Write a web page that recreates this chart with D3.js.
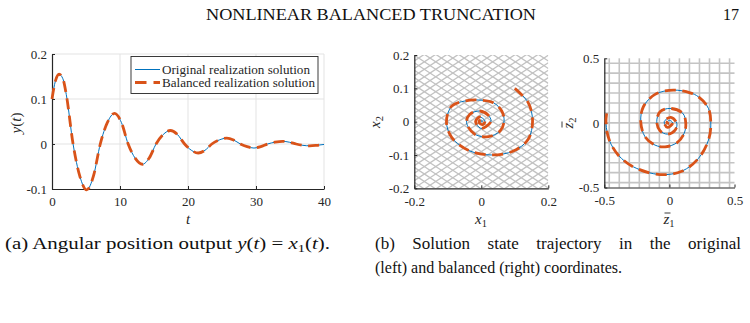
<!DOCTYPE html>
<html>
<head>
<meta charset="utf-8">
<script src="https://cdn.jsdelivr.net/npm/d3@7"></script>
<style>
  body { margin: 0; background: #fff; }
  svg { display: block; font-family: "Liberation Serif", "DejaVu Serif", serif; }
</style>
</head>
<body>
<svg width="750" height="323"></svg>
<script>
// y(t) = x1(t)
const tVals = [0, 0.5, 1.05, 1.6, 2.1, 3.1, 4.1, 5.1, 6.1, 7.1, 8.15, 9.2, 10.2, 11.2, 12.25, 13.3, 14.3, 15.3,
  16.35, 17.4, 18.45, 19.5, 20.5, 21.5, 22.5, 23.5, 24.6, 25.7, 26.7, 27.7, 28.7, 29.7, 30.7, 31.7,
  32.8, 33.9, 34.9, 35.9, 36.9, 37.9, 38.9, 40];
const yVals = [0.100, 0.140, 0.155, 0.145, 0.110, 0.000, -0.072, -0.102, -0.071, 0.000, 0.048, 0.068, 0.048, 0.000,
  -0.032, -0.045, -0.031, 0.000, 0.021, 0.030, 0.021, 0.000, -0.014, -0.020, -0.014, 0.000, 0.009, 0.013,
  0.009, 0.000, -0.006, -0.009, -0.006, 0.000, 0.004, 0.006, 0.004, 0.000, -0.003, -0.004, -0.003, -0.001];

// state trajectory in original coordinates
const x1Traj = [0.100, 0.140, 0.153, 0.140, 0.096, 0.031, -0.034, -0.088, -0.104, -0.088, -0.049, -0.009, 0.036,
  0.061, 0.068, 0.056, 0.021, -0.019, -0.044, -0.034, -0.004, 0.021, 0.029, 0.014, -0.002, -0.017, -0.005,
  0.011, 0.004, -0.007, -0.001, 0.003, 0.000];
const x2Traj = [0.100, 0.057, 0.002, -0.053, -0.088, -0.100, -0.088, -0.048, 0.000, 0.047, 0.062, 0.065, 0.057,
  0.032, 0.002, -0.028, -0.045, -0.038, -0.003, 0.022, 0.032, 0.019, 0.002, -0.015, -0.020, 0.000, 0.014,
  0.002, -0.009, -0.002, 0.006, 0.000, 0.000];

// state trajectory in balanced coordinates
const z1Traj = [-0.482, -0.487, -0.462, -0.392, -0.277, -0.072, 0.095, 0.223, 0.300, 0.318, 0.300, 0.223, 0.159,
  0.031, -0.110, -0.200, -0.220, -0.187, -0.110, -0.033, 0.057, 0.113, 0.126, 0.103, 0.005, -0.072, -0.097,
  -0.072, -0.015, 0.044, 0.057, 0.011, -0.040, -0.015, 0.025, 0.000, -0.020, -0.002];
const z2Traj = [0.074, -0.004, -0.133, -0.250, -0.340, -0.400, -0.374, -0.275, -0.133, -0.017, 0.112, 0.202, 0.233,
  0.254, 0.221, 0.125, 0.009, -0.108, -0.172, -0.185, -0.154, -0.081, -0.004, 0.074, 0.112, 0.086, 0.009,
  -0.061, -0.087, -0.056, -0.004, 0.043, 0.009, -0.035, 0.000, 0.020, 0.000, -0.005];

// ticks and grids
const tTicks = [0, 10, 20, 30, 40];
const yTicks = [-0.1, 0, 0.1, 0.2];
const xTicksB = [-0.2, 0, 0.2];
const yTicksB = [-0.2, -0.1, 0, 0.1, 0.2];
const zTicks = [-0.5, 0, 0.5];
const zGrid = [-0.462, -0.385, -0.308, -0.231, -0.154, -0.077, 0, 0.077, 0.154, 0.231, 0.308, 0.385, 0.462];
const hatchOffsets = d3.range(-16, 17); // index of each crosshatch line
const hatchSlope = 0.66, hatchStep = 0.034;

const blue = '#0072BD', orange = '#D95319', axisCol = '#262626';

const svg = d3.select('svg');
const fmt = (d) => (d === 0 ? '0' : String(d));

function styleAxis(g) {
    g.select('.domain').attr('stroke', axisCol).attr('stroke-width', 1.2);
    g.selectAll('.tick line').attr('stroke', axisCol);
    g.selectAll('.tick text').attr('fill', axisCol).attr('font-size', 13)
        .attr('font-family', '"Liberation Serif", serif');
}

function addAxes(x, y, xt, yt) {
    const [x0] = x.range();
    const [y0] = y.range();
    svg.append('g').attr('transform', `translate(0,${y0})`)
        .call(d3.axisBottom(x).tickValues(xt).tickFormat(fmt).tickSizeInner(-3).tickSizeOuter(0).tickPadding(8))
        .call(styleAxis);
    svg.append('g').attr('transform', `translate(${x0},0)`)
        .call(d3.axisLeft(y).tickValues(yt).tickFormat(fmt).tickSizeInner(-3).tickSizeOuter(0).tickPadding(5))
        .call(styleAxis);
}

function drawPair(line, data) {
    svg.append('path').datum(data).attr('d', line)
        .attr('fill', 'none').attr('stroke', blue).attr('stroke-width', 1);
    svg.append('path').datum(data).attr('d', line)
        .attr('fill', 'none').attr('stroke', orange).attr('stroke-width', 2.8)
        .attr('stroke-dasharray', '11,6.5');
}

// ---------- (a) time response ----------
const xA = d3.scaleLinear().domain([0, 40]).range([52, 324]);
const yA = d3.scaleLinear().domain([-0.1, 0.2]).range([189, 54]);

const gridA = svg.append('g').attr('stroke', '#e3e3e3').attr('stroke-width', 1);
tTicks.slice(1).forEach((t) => {
    gridA.append('line').attr('x1', xA(t)).attr('x2', xA(t)).attr('y1', yA(-0.1)).attr('y2', yA(0.2));
});
yTicks.slice(1).forEach((v) => {
    gridA.append('line').attr('x1', xA(0)).attr('x2', xA(40)).attr('y1', yA(v)).attr('y2', yA(v));
});
addAxes(xA, yA, tTicks, yTicks);

const series = tVals.map((t, i) => [t, yVals[i]]);
const lineA = d3.line().x((d) => xA(d[0])).y((d) => yA(d[1])).curve(d3.curveMonotoneX);
drawPair(lineA, series); // balanced solution lies on top of the original one

// legend
const lg = svg.append('g');
lg.append('rect').attr('x', 131).attr('y', 56.5).attr('width', 187).attr('height', 37)
    .attr('fill', '#fff').attr('stroke', axisCol).attr('stroke-width', 0.9);
lg.append('line').attr('x1', 135).attr('x2', 160).attr('y1', 69.5).attr('y2', 69.5)
    .attr('stroke', blue).attr('stroke-width', 1);
lg.append('line').attr('x1', 135).attr('x2', 160).attr('y1', 82.5).attr('y2', 82.5)
    .attr('stroke', orange).attr('stroke-width', 2.8).attr('stroke-dasharray', '11.5,7');
lg.append('text').attr('x', 162).attr('y', 73.5).attr('font-size', 12.5).attr('fill', axisCol)
    .attr('textLength', 148).attr('lengthAdjust', 'spacingAndGlyphs').text('Original realization solution');
lg.append('text').attr('x', 162).attr('y', 87).attr('font-size', 12.5).attr('fill', axisCol)
    .attr('textLength', 153).attr('lengthAdjust', 'spacingAndGlyphs').text('Balanced realization solution');

svg.append('text').attr('x', 188).attr('y', 224).attr('text-anchor', 'middle')
    .attr('font-size', 15).attr('font-style', 'italic').attr('fill', axisCol).text('t');
const yLab = svg.append('text').attr('transform', 'translate(21,123) rotate(-90)')
    .attr('text-anchor', 'middle').attr('font-size', 15).attr('fill', axisCol);
yLab.append('tspan').attr('font-style', 'italic').text('y');
yLab.append('tspan').text('(');
yLab.append('tspan').attr('font-style', 'italic').text('t');
yLab.append('tspan').text(')');

// ---------- (b) left: original coordinates ----------
const xB = d3.scaleLinear().domain([-0.2, 0.2]).range([414.3, 548.3]);
const yB = d3.scaleLinear().domain([-0.2, 0.2]).range([188.3, 55]);

svg.append('clipPath').attr('id', 'clipB').append('rect')
    .attr('x', 414.3).attr('y', 55).attr('width', 134).attr('height', 133.3);
const hatch = svg.append('g').attr('clip-path', 'url(#clipB)')
    .attr('stroke', '#c2c2c2').attr('stroke-width', 1.3);
hatchOffsets.forEach((k) => {
    const c = k * hatchSlope * hatchStep;
    [hatchSlope, -hatchSlope].forEach((s) => {
        hatch.append('line')
            .attr('x1', xB(-0.2)).attr('y1', yB(s * -0.2 + c))
            .attr('x2', xB(0.2)).attr('y2', yB(s * 0.2 + c));
    });
});
addAxes(xB, yB, xTicksB, yTicksB);

const lineB = d3.line().x((d) => xB(d[0])).y((d) => yB(d[1])).curve(d3.curveCatmullRom.alpha(0.5));
drawPair(lineB, x1Traj.map((v, i) => [v, x2Traj[i]]));

function subLabel(x, y, letter, sub, rotate, bar) {
    const g = svg.append('g').attr('transform', `translate(${x},${y})` + (rotate ? ' rotate(-90)' : ''));
    const t = g.append('text').attr('text-anchor', 'middle').attr('font-size', 15).attr('fill', axisCol);
    t.append('tspan').attr('font-style', 'italic').text(letter);
    t.append('tspan').attr('font-size', 10.5).attr('dy', 3).text(sub);
    if (bar) {
        g.append('line').attr('x1', -4.5).attr('x2', 1.5).attr('y1', -11).attr('y2', -11)
            .attr('stroke', axisCol).attr('stroke-width', 0.9);
    }
}
subLabel(481, 224, 'x', '1', false, false);
subLabel(380, 122, 'x', '2', true, false);

// ---------- (b) right: balanced coordinates ----------
const xC = d3.scaleLinear().domain([-0.5, 0.5]).range([604.3, 734.5]);
const yC = d3.scaleLinear().domain([-0.5, 0.5]).range([187.5, 58.3]);

const gridC = svg.append('g').attr('stroke', '#c4c4c4').attr('stroke-width', 1.6);
zGrid.forEach((v) => {
    gridC.append('line').attr('x1', xC(v)).attr('x2', xC(v)).attr('y1', yC(-0.5)).attr('y2', yC(0.5));
    gridC.append('line').attr('x1', xC(-0.5)).attr('x2', xC(0.5)).attr('y1', yC(v)).attr('y2', yC(v));
});
addAxes(xC, yC, zTicks, zTicks);

const lineC = d3.line().x((d) => xC(d[0])).y((d) => yC(d[1])).curve(d3.curveCatmullRom.alpha(0.5));
drawPair(lineC, z1Traj.map((v, i) => [v, z2Traj[i]]));

subLabel(669, 224, 'z', '1', false, true);
subLabel(573, 123, 'z', '2', true, true);

// ---------- page text ----------
svg.append('text').attr('x', 206).attr('y', 20).attr('font-size', 16).attr('fill', '#111')
    .attr('textLength', 330).attr('lengthAdjust', 'spacingAndGlyphs').text('NONLINEAR BALANCED TRUNCATION');
svg.append('text').attr('x', 723).attr('y', 20).attr('font-size', 16).attr('fill', '#111').text('17');

const capA = svg.append('text').attr('x', 5).attr('y', 249).attr('font-size', 16).attr('fill', '#111')
    .attr('textLength', 325).attr('lengthAdjust', 'spacingAndGlyphs');
capA.append('tspan').text('(a) Angular position output ');
capA.append('tspan').attr('font-style', 'italic').text('y');
capA.append('tspan').text('(');
capA.append('tspan').attr('font-style', 'italic').text('t');
capA.append('tspan').text(') = ');
capA.append('tspan').attr('font-style', 'italic').text('x');
capA.append('tspan').attr('font-size', 11).attr('dy', 3).text('1');
capA.append('tspan').attr('dy', -3).text('(');
capA.append('tspan').attr('font-style', 'italic').text('t');
capA.append('tspan').text(').');

// caption (b): glyphs stretched to the printed word widths, first line justified by word spacing
svg.append('text').attr('x', 375).attr('y', 273).attr('font-size', 16).attr('fill', '#111')
    .attr('textLength', 247).attr('lengthAdjust', 'spacingAndGlyphs')
    .text('(left) and balanced (right) coordinates.');
const capLine1 = '(b) Solution state trajectory in the original';
const probe = svg.append('text').attr('font-size', 16).text(capLine1.replace(/ /g, ''));
const wordsWidth = probe.node().getComputedTextLength();
probe.remove();
const stretch = 261 / wordsWidth;
const capB1 = svg.append('text').attr('x', 0).attr('y', 249).attr('font-size', 16).attr('fill', '#111')
    .attr('transform', `translate(375,0) scale(${stretch},1)`).text(capLine1);
const natural1 = capB1.node().getComputedTextLength();
capB1.attr('word-spacing', (366 / stretch - natural1) / 6);
</script>
</body>
</html>
